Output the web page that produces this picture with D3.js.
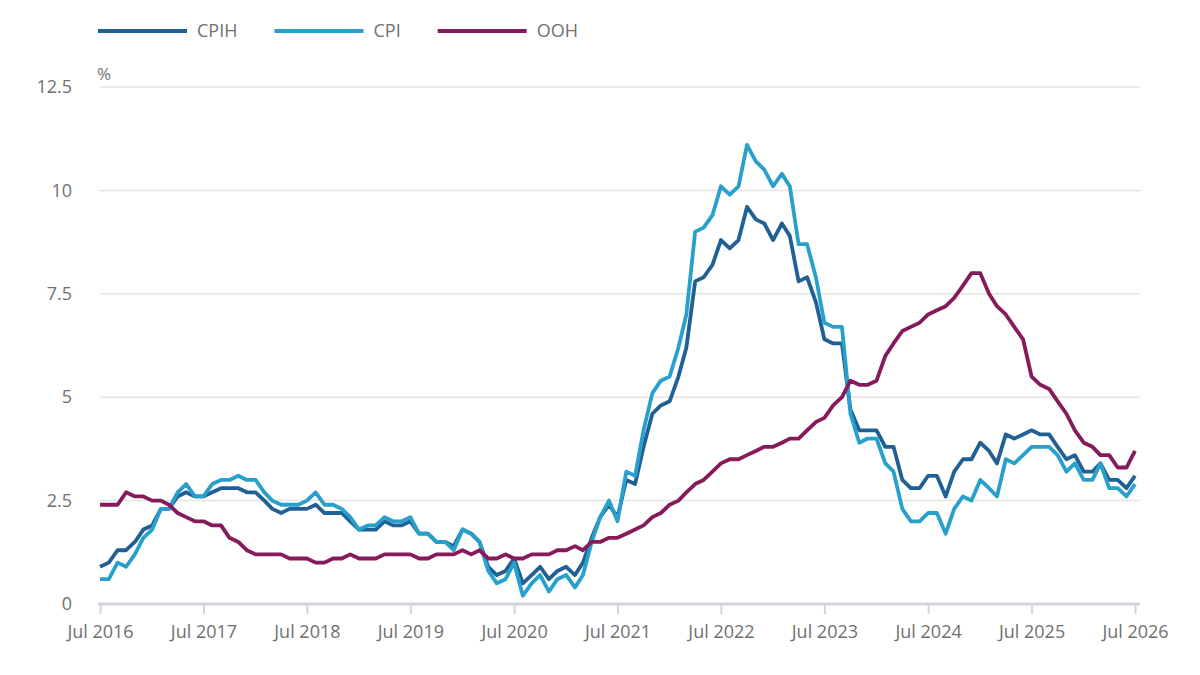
<!DOCTYPE html>
<html>
<head>
<meta charset="utf-8">
<script src="https://cdn.jsdelivr.net/npm/d3@7"></script>
<style>
  body { margin: 0; background: #fff; }
  text { font-family: "Open Sans", sans-serif; }
</style>
</head>
<body>
<div id="chart"></div>
<script>
// annual rate, %, monthly from Jul 2016 to Jul 2026
const seriesNames = ["CPIH", "CPI", "OOH"];
const seriesColors = ["#206095", "#27a0cc", "#871a5b"];

const cpih = [
  0.9, 1.0, 1.3, 1.3, 1.5, 1.8,
  1.9, 2.3, 2.3, 2.6, 2.7, 2.6, 2.6, 2.7, 2.8, 2.8, 2.8, 2.7,
  2.7, 2.5, 2.3, 2.2, 2.3, 2.3, 2.3, 2.4, 2.2, 2.2, 2.2, 2.0,
  1.8, 1.8, 1.8, 2.0, 1.9, 1.9, 2.0, 1.7, 1.7, 1.5, 1.5, 1.4,
  1.8, 1.7, 1.5, 0.9, 0.7, 0.8, 1.1, 0.5, 0.7, 0.9, 0.6, 0.8,
  0.9, 0.7, 1.0, 1.6, 2.1, 2.4, 2.1, 3.0, 2.9, 3.8, 4.6, 4.8,
  4.9, 5.5, 6.2, 7.8, 7.9, 8.2, 8.8, 8.6, 8.8, 9.6, 9.3, 9.2,
  8.8, 9.2, 8.9, 7.8, 7.9, 7.3, 6.4, 6.3, 6.3, 4.7, 4.2, 4.2,
  4.2, 3.8, 3.8, 3.0, 2.8, 2.8, 3.1, 3.1, 2.6, 3.2, 3.5, 3.5,
  3.9, 3.7, 3.4, 4.1, 4.0, 4.1, 4.2, 4.1, 4.1, 3.8, 3.5, 3.6,
  3.2, 3.2, 3.4, 3.0, 3.0, 2.8, 3.1
];
const cpi = [
  0.6, 0.6, 1.0, 0.9, 1.2, 1.6,
  1.8, 2.3, 2.3, 2.7, 2.9, 2.6, 2.6, 2.9, 3.0, 3.0, 3.1, 3.0,
  3.0, 2.7, 2.5, 2.4, 2.4, 2.4, 2.5, 2.7, 2.4, 2.4, 2.3, 2.1,
  1.8, 1.9, 1.9, 2.1, 2.0, 2.0, 2.1, 1.7, 1.7, 1.5, 1.5, 1.3,
  1.8, 1.7, 1.5, 0.8, 0.5, 0.6, 1.0, 0.2, 0.5, 0.7, 0.3, 0.6,
  0.7, 0.4, 0.7, 1.5, 2.1, 2.5, 2.0, 3.2, 3.1, 4.2, 5.1, 5.4,
  5.5, 6.2, 7.0, 9.0, 9.1, 9.4, 10.1, 9.9, 10.1, 11.1, 10.7, 10.5,
  10.1, 10.4, 10.1, 8.7, 8.7, 7.9, 6.8, 6.7, 6.7, 4.6, 3.9, 4.0,
  4.0, 3.4, 3.2, 2.3, 2.0, 2.0, 2.2, 2.2, 1.7, 2.3, 2.6, 2.5,
  3.0, 2.8, 2.6, 3.5, 3.4, 3.6, 3.8, 3.8, 3.8, 3.6, 3.2, 3.4,
  3.0, 3.0, 3.4, 2.8, 2.8, 2.6, 2.9
];
const ooh = [
  2.4, 2.4, 2.4, 2.7, 2.6, 2.6,
  2.5, 2.5, 2.4, 2.2, 2.1, 2.0, 2.0, 1.9, 1.9, 1.6, 1.5, 1.3,
  1.2, 1.2, 1.2, 1.2, 1.1, 1.1, 1.1, 1.0, 1.0, 1.1, 1.1, 1.2,
  1.1, 1.1, 1.1, 1.2, 1.2, 1.2, 1.2, 1.1, 1.1, 1.2, 1.2, 1.2,
  1.3, 1.2, 1.3, 1.1, 1.1, 1.2, 1.1, 1.1, 1.2, 1.2, 1.2, 1.3,
  1.3, 1.4, 1.3, 1.5, 1.5, 1.6, 1.6, 1.7, 1.8, 1.9, 2.1, 2.2,
  2.4, 2.5, 2.7, 2.9, 3.0, 3.2, 3.4, 3.5, 3.5, 3.6, 3.7, 3.8,
  3.8, 3.9, 4.0, 4.0, 4.2, 4.4, 4.5, 4.8, 5.0, 5.4, 5.3, 5.3,
  5.4, 6.0, 6.3, 6.6, 6.7, 6.8, 7.0, 7.1, 7.2, 7.4, 7.7, 8.0,
  8.0, 7.5, 7.2, 7.0, 6.7, 6.4, 5.5, 5.3, 5.2, 4.9, 4.6, 4.2,
  3.9, 3.8, 3.6, 3.6, 3.3, 3.3, 3.7
];

const yTicks = [0, 2.5, 5, 7.5, 10, 12.5];
const xTickYears = [2016, 2017, 2018, 2019, 2020, 2021, 2022, 2023, 2024, 2025, 2026];

const chart = {
  width: 1200,
  height: 675,
  margin: { left: 100, right: 65, top: 87, bottom: 71 },

  renderSvg(id) {
    d3.select(`#${id}`).selectAll("*").remove();
    const svg = d3.select(`#${id}`).append("svg")
      .attr("width", this.width)
      .attr("height", this.height);
    const innerWidth = this.width - this.margin.left - this.margin.right;
    const innerHeight = this.height - this.margin.top - this.margin.bottom;
    const g = svg.append("g")
      .attr("transform", `translate(${this.margin.left},${this.margin.top})`);
    return { svg, g, innerWidth, innerHeight };
  },
};

function draw() {
  const { svg, g, innerWidth, innerHeight } = chart.renderSvg("chart");

  const months = d3.timeMonth.range(new Date(2016, 6, 1), new Date(2026, 7, 1));
  const values = [cpih, cpi, ooh];

  const xScale = d3.scaleTime()
    .domain([months[0], months[months.length - 1]])
    .range([0, innerWidth]);
  const yScale = d3.scaleLinear()
    .domain([0, 12.5])
    .range([innerHeight, 0]);

  // gridlines
  g.append("g")
    .selectAll("line")
    .data(yTicks.filter((d) => d > 0))
    .join("line")
    .attr("x1", 0)
    .attr("x2", innerWidth + 5)
    .attr("y1", (d) => yScale(d))
    .attr("y2", (d) => yScale(d))
    .attr("stroke", "#e4e4e4")
    .attr("stroke-width", 1.5);

  // y axis
  const yAxis = g.append("g")
    .call(d3.axisLeft(yScale).tickValues(yTicks).tickSize(0).tickPadding(28)
      .tickFormat((d) => String(d)));
  yAxis.select(".domain").remove();
  yAxis.selectAll("text")
    .attr("fill", "#707070")
    .style("font-size", "18px");

  // x axis
  const xAxis = g.append("g")
    .attr("transform", `translate(0,${innerHeight})`)
    .call(d3.axisBottom(xScale)
      .tickValues(xTickYears.map((y) => new Date(y, 6, 1)))
      .tickSize(10)
      .tickPadding(11)
      .tickFormat(d3.timeFormat("%b %Y")));
  xAxis.select(".domain")
    .attr("d", `M-2,0H${innerWidth + 5}`)
    .attr("stroke", "#d4d4dc")
    .attr("stroke-width", 3);
  xAxis.selectAll(".tick line")
    .attr("stroke", "#d4d4dc")
    .attr("stroke-width", 2);
  xAxis.selectAll("text")
    .attr("fill", "#707070")
    .style("font-size", "18px");

  // unit label
  svg.append("text")
    .attr("x", 97)
    .attr("y", 80)
    .attr("fill", "#707070")
    .style("font-size", "17px")
    .text("%");

  // lines
  const line = d3.line()
    .x((d, i) => xScale(months[i]))
    .y((d) => yScale(d));

  g.selectAll(".series")
    .data(values)
    .join("path")
    .attr("class", "series")
    .attr("d", (d) => line(d))
    .attr("fill", "none")
    .attr("stroke", (d, i) => seriesColors[i])
    .attr("stroke-width", 3.8)
    .attr("stroke-linejoin", "round");

  // legend
  const legend = svg.append("g").attr("transform", "translate(98,31)");
  let lx = 0;
  seriesNames.forEach((name, i) => {
    legend.append("line")
      .attr("x1", lx)
      .attr("x2", lx + 89)
      .attr("y1", 0)
      .attr("y2", 0)
      .attr("stroke", seriesColors[i])
      .attr("stroke-width", 4);
    const t = legend.append("text")
      .attr("x", lx + 99)
      .attr("y", 0)
      .attr("dy", "0.35em")
      .attr("fill", "#707070")
      .style("font-size", "18px")
      .text(name);
    lx += 99 + t.node().getComputedTextLength() + 37;
  });
}
draw();
</script>
</body>
</html>
